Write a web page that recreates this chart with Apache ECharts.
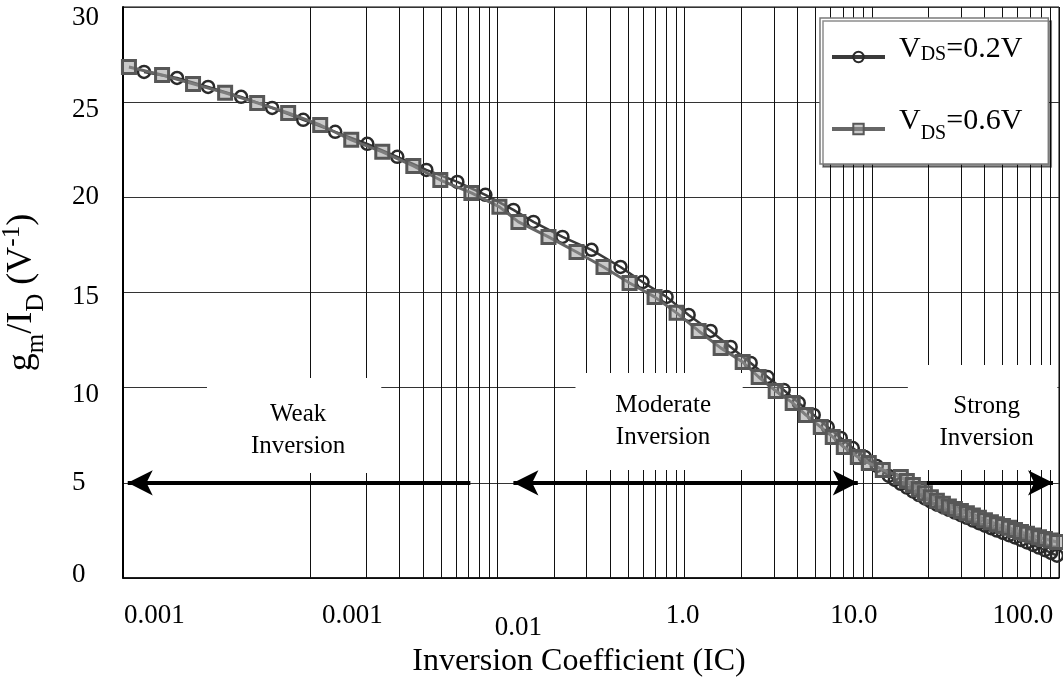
<!DOCTYPE html>
<html>
<head>
<meta charset="utf-8">
<script src="https://cdn.jsdelivr.net/npm/echarts@6/dist/echarts.min.js"></script>
<style>
  html, body { margin: 0; padding: 0; background: #fff; }
  #chart { width: 1063px; height: 683px; }
</style>
</head>
<body>
<div id="chart"></div>
<script>
// gm/ID versus inversion coefficient, two drain biases
const ic02 = [0.001295, 0.001944, 0.002848, 0.004276, 0.006262, 0.009175, 0.0136, 0.02018, 0.02919, 0.04173,
  0.06111, 0.08625, 0.1218, 0.1558, 0.2226, 0.3183, 0.4547, 0.5963, 0.8013, 1.051,
  1.377, 1.762, 2.254, 2.779, 3.384, 4.071, 4.895, 5.818, 6.829, 7.913,
  9.175, 10.63, 12.33, 13.27, 14.29, 15.39, 16.57, 17.84, 19.21, 20.68,
  22.27, 23.98, 25.81, 27.79, 29.92, 32.21, 34.68, 37.34, 40.21, 43.29,
  46.61, 50.18, 54.03, 58.18, 62.64, 67.45, 72.61, 78.16, 84.19, 90.62, 97.57];
const gm02 = [26.59, 26.27, 25.80, 25.28, 24.70, 24.07, 23.44, 22.81, 22.13, 21.44,
  20.81, 20.13, 19.34, 18.71, 17.92, 17.24, 16.34, 15.55, 14.77, 13.82,
  12.98, 12.14, 11.30, 10.56, 9.88, 9.20, 8.57, 7.93, 7.36, 6.83,
  6.36, 5.89, 5.36, 5.15, 4.95, 4.75, 4.55, 4.36, 4.18, 4.01,
  3.86, 3.73, 3.58, 3.44, 3.30, 3.16, 3.02, 2.88, 2.75, 2.62,
  2.49, 2.37, 2.25, 2.13, 2.00, 1.87, 1.74, 1.60, 1.46, 1.32, 1.17];

const ic06 = [0.001076, 0.001617, 0.002367, 0.003512, 0.005208, 0.007625, 0.01131, 0.01657, 0.02427, 0.03555,
  0.04955, 0.07261, 0.1025, 0.1295, 0.1874, 0.2646, 0.3688, 0.5081, 0.6912, 0.9062,
  1.188, 1.558, 2.043, 2.487, 3.066, 3.779, 4.437, 5.337, 6.185, 7.085,
  8.417, 9.638, 11.45, 14.29, 15.39, 16.57, 17.84, 19.21, 20.68, 22.27,
  23.98, 25.81, 27.79, 29.92, 32.21, 34.68, 37.34, 40.21, 43.29, 46.61,
  50.18, 54.03, 58.18, 62.64, 67.45, 72.61, 78.16, 84.19, 90.62, 97.57];
const gm06 = [26.85, 26.43, 25.96, 25.49, 24.96, 24.43, 23.80, 23.02, 22.39, 21.65,
  20.91, 20.23, 19.50, 18.71, 17.92, 17.13, 16.34, 15.50, 14.77, 13.93,
  12.98, 12.09, 11.35, 10.56, 9.83, 9.20, 8.57, 7.93, 7.41, 6.88,
  6.36, 6.04, 5.68, 5.31, 5.10, 4.88, 4.66, 4.45, 4.24, 4.06,
  3.90, 3.76, 3.63, 3.52, 3.40, 3.28, 3.16, 3.04, 2.93, 2.82,
  2.73, 2.64, 2.52, 2.42, 2.32, 2.23, 2.14, 2.05, 1.97, 1.89];

const seriesNames = ['VDS=0.2V', 'VDS=0.6V'];

// x tick labels and where they sit along the IC axis
const xTickLabels = ['0.001', '0.001', '0.01', '1.0', '10.0', '100.0'];
const xTickAt = [0.00147, 0.0168, 0.1294, 0.975, 8.01, 64.2];

// y tick labels and where they sit along the gm/ID axis
const yTickLabels = ['0', '5', '10', '15', '20', '25', '30'];
const yTickAt = [0.16, 4.99, 9.62, 14.77, 20.02, 24.59, 29.43];

// operating-region annotations: text, IC span, gm/ID span of the cleared box
const regionText = ['Weak\nInversion', 'Moderate\nInversion', 'Strong\nInversion'];
const regionIC = [[0.00281, 0.02397], [0.2613, 2.043], [15.58, 98]];
const regionGm = [[5.52, 10.51], [5.68, 10.77], [5.68, 11.19]];

// region arrows drawn at gm/ID = 5: [from IC, to IC], plus which ends carry a head
const arrowLevel = 5;
const arrowIC = [[0.0717, 0.00106], [0.1218, 8.417], [13.77, 92.9]];
const arrowHeads = [[false, true], [true, true], [false, true]];

// log grid: 1..9 in every decade
const decades = [0.001, 0.01, 0.1, 1, 10];
const gridX = [];
decades.forEach(d => { for (let k = 1; k <= 9; k++) gridX.push(+(d * k).toPrecision(3)); });
gridX.push(100);

const serif = '"Liberation Serif", "Times New Roman", serif';

const chart = echarts.init(document.getElementById('chart'), null, { renderer: 'canvas' });

// rich-text pieces for subscripts / superscripts
const legendRich = {
  g: { width: 9 },
  n: { fontFamily: serif, fontSize: 30, color: '#000', lineHeight: 30, verticalAlign: 'bottom', padding: [0, 0, 8, 0] },
  a: { fontFamily: serif, fontSize: 20, color: '#000', lineHeight: 20, verticalAlign: 'bottom', padding: [0, 0, 7, 0] },
  b: { fontFamily: serif, fontSize: 20, color: '#000', lineHeight: 20, verticalAlign: 'bottom' }
};
const yNameRich = {
  n: { fontFamily: serif, fontSize: 36, color: '#000', lineHeight: 36, verticalAlign: 'bottom', padding: [0, 0, 9, 0] },
  a: { fontFamily: serif, fontSize: 25, color: '#000', lineHeight: 25, verticalAlign: 'bottom' },
  p: { fontFamily: serif, fontSize: 25, color: '#000', lineHeight: 25, verticalAlign: 'bottom', padding: [0, 0, 24, 0] }
};

// pick the label whose anchor is closest to a given axis value
function nearestLabel(positions, labels, value, useLog) {
  let best = 0, bestD = Infinity;
  positions.forEach((p, i) => {
    const d = useLog ? Math.abs(Math.log10(p) - Math.log10(value)) : Math.abs(p - value);
    if (d < bestD) { bestD = d; best = i; }
  });
  return labels[best];
}

const option = {
  animation: false,
  backgroundColor: '#fff',
  textStyle: { fontFamily: serif },
  grid: {
    left: 123, right: 4, top: 7, bottom: 105,
    containLabel: false, outerBoundsMode: 'none',
    show: true, borderColor: '#000', borderWidth: 1, backgroundColor: 'transparent'
  },
  legend: {
    data: seriesNames,
    orient: 'vertical',
    left: 820, top: 18,
    padding: [16, 26, 20, 10],
    itemGap: 34,
    itemWidth: 53, itemHeight: 13,
    backgroundColor: '#fff',
    borderColor: '#7a7a7a', borderWidth: 1.5,
    shadowColor: 'rgba(0,0,0,0.45)', shadowOffsetX: 3, shadowOffsetY: 3, shadowBlur: 0,
    lineStyle: { width: 4 },
    textStyle: { rich: legendRich },
    formatter: name => name === seriesNames[0]
      ? '{g| }{n|V}{a|DS}{n|=0.2V}'
      : '{g| }{n|V}{b|DS}{n|=0.6V}'
  },
  xAxis: {
    type: 'log', logBase: 10, min: 0.001, max: 100,
    name: 'Inversion Coefficient (IC)',
    nameLocation: 'middle', nameGap: 68,
    nameTextStyle: { fontFamily: serif, fontSize: 32, color: '#000', padding: [0, 24, 0, 0] },
    axisLine: { show: true, lineStyle: { color: '#000', width: 1.5 } },
    axisTick: { show: false },
    splitLine: { show: false },
    axisLabel: {
      customValues: xTickAt,
      margin: 24,
      fontFamily: serif, fontSize: 27, color: '#000',
      formatter: function (value) {
        const txt = nearestLabel(xTickAt, xTickLabels, value, true);
        return txt === '0.01' ? '{low|' + txt + '}' : '{t|' + txt + '}';
      },
      rich: {
        t: { fontFamily: serif, fontSize: 27, color: '#000' },
        low: { fontFamily: serif, fontSize: 27, color: '#000', padding: [12, 0, 0, 0] }
      }
    }
  },
  yAxis: {
    type: 'value', min: 0, max: 30, interval: 5,
    name: '{n|g}{a|m}{n|/I}{a|D}{n| (V}{p|-1}{n|)}',
    nameLocation: 'middle', nameRotate: 90, nameGap: 74,
    nameTextStyle: { rich: yNameRich },
    axisLine: { show: true, lineStyle: { color: '#000', width: 2 } },
    axisTick: { show: false },
    splitLine: { show: true, lineStyle: { color: '#333', width: 1 } },
    axisLabel: {
      customValues: yTickAt,
      align: 'left', margin: 51, fontFamily: serif, fontSize: 27, color: '#000',
      formatter: value => nearestLabel(yTickAt, yTickLabels, value, false)
    }
  },
  series: [
    {
      // vertical log grid
      type: 'line', data: [], silent: true, z: 1,
      markLine: {
        silent: true, z: 1, symbol: 'none', animation: false,
        label: { show: false },
        lineStyle: { color: '#111', width: 1, type: 'solid' },
        emphasis: { disabled: true },
        data: gridX.map(v => ({ xAxis: v }))
      }
    },
    {
      // cleared boxes carrying the region names
      type: 'line', data: [], silent: true, z: 2,
      markArea: {
        silent: true, z: 2, animation: false,
        itemStyle: { color: '#fff' },
        label: {
          show: true, position: 'inside', color: '#000',
          fontFamily: serif, fontSize: 25, lineHeight: 32, align: 'center'
        },
        emphasis: { disabled: true },
        data: regionText.map((t, i) => [
          { name: t, coord: [regionIC[i][0], regionGm[i][1]], label: { offset: [4, i === 1 ? 0 : 5] } },
          { coord: [regionIC[i][1], regionGm[i][0]] }
        ])
      }
    },
    {
      // region arrows
      type: 'line', data: [], silent: true, z: 3,
      markLine: {
        silent: true, z: 3, animation: false,
        symbol: ['arrow', 'arrow'], symbolSize: [19, 25],
        label: { show: false },
        lineStyle: { color: '#000', width: 4, type: 'solid' },
        emphasis: { disabled: true },
        data: arrowIC.map((a, i) => [
          { coord: [a[0], arrowLevel], symbol: arrowHeads[i][0] ? 'arrow' : 'none' },
          { coord: [a[1], arrowLevel], symbol: arrowHeads[i][1] ? 'arrow' : 'none' }
        ])
      }
    },
    {
      name: seriesNames[0], type: 'line', z: 4,
      data: ic02.map((x, i) => [x, gm02[i]]),
      symbol: 'circle', symbolSize: 12,
      lineStyle: { color: '#3a3a3a', width: 2.5 },
      itemStyle: { color: 'rgba(255,255,255,0)', borderColor: '#2a2a2a', borderWidth: 2.5 },
      emphasis: { disabled: true }
    },
    {
      name: seriesNames[1], type: 'line', z: 5,
      data: ic06.map((x, i) => [x, gm06[i]]),
      symbol: 'rect', symbolSize: 13,
      lineStyle: { color: '#666', width: 3 },
      itemStyle: { color: 'rgba(150,150,150,0.5)', borderColor: '#575757', borderWidth: 3 },
      emphasis: { disabled: true }
    }
  ]
};

chart.setOption(option);
</script>
</body>
</html>
